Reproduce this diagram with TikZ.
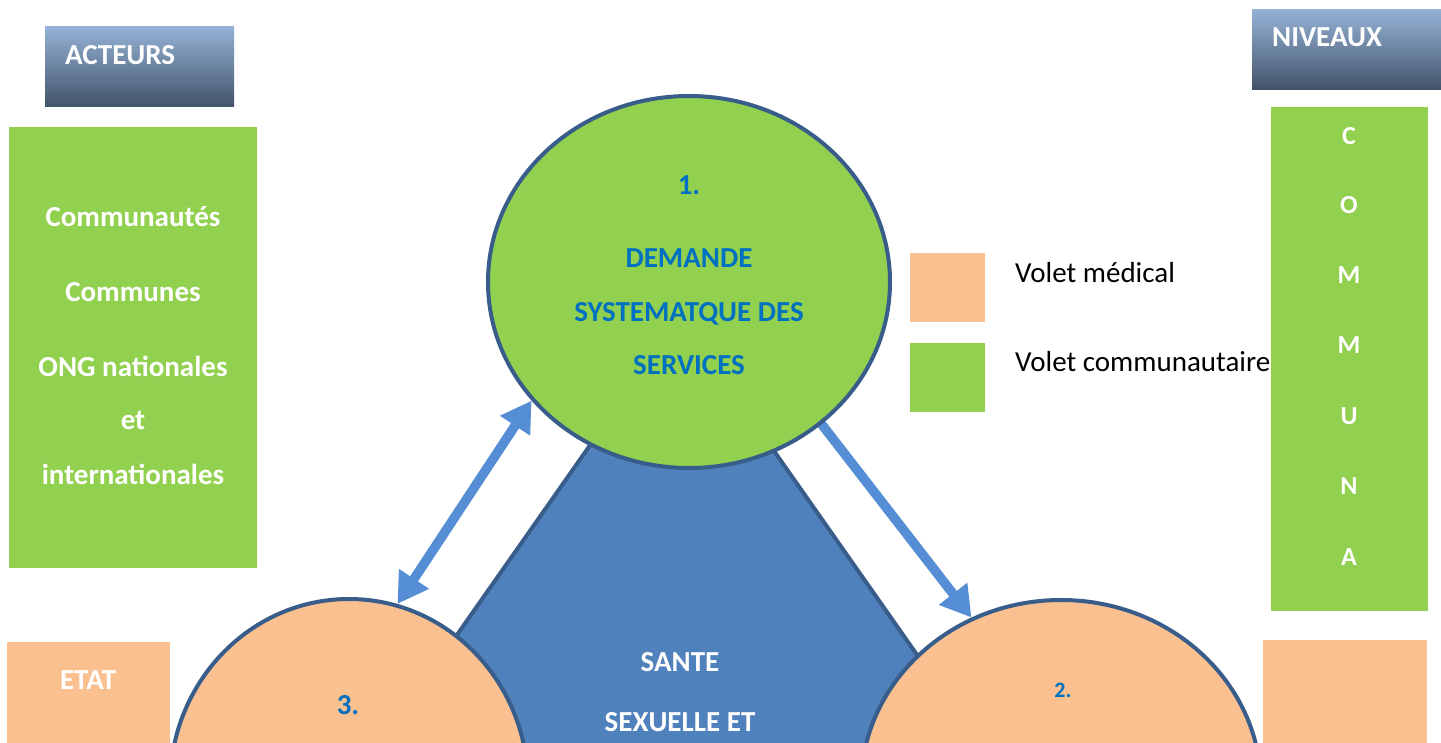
\documentclass[tikz,border=0pt]{standalone}
\usepackage{fontspec}
\setmainfont{Carlito}
\usetikzlibrary{shapes.geometric,arrows.meta}

\definecolor{leaf}{HTML}{92D050}
\definecolor{peach}{HTML}{FAC090}
\definecolor{core}{HTML}{4F81BD}
\definecolor{rim}{HTML}{385D8A}
\definecolor{flow}{HTML}{558ED5}
\definecolor{ink}{HTML}{0070C0}
\definecolor{headtop}{HTML}{95B3D7}
\definecolor{headbot}{HTML}{44546A}

\newcommand\fsz[1]{\fontsize{#1}{#1}\selectfont}

\tikzset{
  panel/.style={rectangle, inner sep=0pt, outer sep=0pt, anchor=north west},
  header/.style={panel, top color=headtop, bottom color=headbot, draw=none},
  bubble/.style={ellipse, draw=rim, line width=4pt, inner sep=0pt},
  lbl/.style={inner sep=0pt, anchor=base, font=\fsz{29}\bfseries, text=white},
  inlbl/.style={lbl, text=ink},
  collbl/.style={inner sep=0pt, anchor=base, font=\fsz{26}\bfseries, text=white},
  legtxt/.style={inner sep=0pt, anchor=base west, font=\fsz{29}, text=black},
  link/.style={draw=flow, line width=9.5pt}
}

\begin{document}
\begin{tikzpicture}[x=1pt,y=-1pt]
\clip (0,0) rectangle (1441,742);
\fill[white] (0,0) rectangle (1441,742);

% column headers
\node[header, minimum width=189pt, minimum height=80pt] (acteurs) at (45,26) {};
\node[lbl, anchor=base west] (acteurs text) at (65,64) {ACTEURS};
\node[header, minimum width=190pt, minimum height=80pt] (niveaux) at (1252,9) {};
\node[lbl, anchor=base west] (niveaux text) at (1272,46) {NIVEAUX};

% actors
\node[panel, fill=leaf, minimum width=248pt, minimum height=441pt] (commu box) at (9,127) {};
\node[lbl] (a1) at (133,226) {Communautés};
\node[lbl] (a2) at (133,301) {Communes};
\node[lbl] (a3) at (133,376) {ONG nationales};
\node[lbl] (a4) at (133,429) {et};
\node[lbl] (a5) at (133,484) {internationales};

\node[panel, fill=peach, minimum width=163pt, minimum height=110pt] (etat box) at (7,642) {};
\node[lbl] (etat) at (88,689) {ETAT};

% central triangle
\filldraw[fill=core, draw=rim, line width=4pt, line join=miter]
  (680,317) -- (271,900) -- (1089,900) -- cycle;
\node[lbl] (t1) at (680,671) {SANTE};
\node[lbl] (t2) at (680,731) {SEXUELLE ET};

% lower bubbles
\node[bubble, fill=peach, minimum width=400pt, minimum height=372pt] (c2) at (1061,786) {};
\node[inlbl, font=\fsz{22}\bfseries] (n2) at (1063,697) {2.};
\node[bubble, fill=peach, minimum width=358pt, minimum height=372pt] (c3) at (349,785) {};
\node[inlbl] (n3) at (348,714) {3.};

% upper bubble position (drawn after the arrows)
\coordinate (c1c) at (689,282);
\path (c1c) node[bubble, draw=none, minimum width=402pt, minimum height=372pt] (c1) {};

% links
\draw[link, {Triangle[length=30pt,width=34pt]}-{Triangle[length=30pt,width=34pt]}]
  (c3.75.6) -- (c1.217.6);
\draw[link, -{Triangle[length=30pt,width=34pt]}, shorten <=-12pt]
  (c1.-47.5) -- (c2.118.8);

% upper bubble
\node[bubble, fill=leaf, minimum width=402pt, minimum height=372pt] (c1top) at (c1c) {};
\node[inlbl] (n1) at (689,194) {1.};
\node[inlbl] (d1) at (689,267) {DEMANDE};
\node[inlbl] (d2) at (689,321) {SYSTEMATQUE DES};
\node[inlbl] (d3) at (689,374) {SERVICES};

% legend
\node[panel, fill=peach, minimum width=75pt, minimum height=69pt] (leg med) at (910,253) {};
\node[panel, fill=leaf, minimum width=75pt, minimum height=69pt] (leg com) at (910,343) {};
\node[legtxt] (leg med text) at (1015,282) {Volet médical};
\node[legtxt] (leg com text) at (1015,371) {Volet communautaire};

% levels
\node[panel, fill=leaf, minimum width=157pt, minimum height=504pt] (comm col) at (1271,107) {};
\node[collbl] (l1) at (1349,144) {C};
\node[collbl] (l2) at (1349,213) {O};
\node[collbl] (l3) at (1349,283) {M};
\node[collbl] (l4) at (1349,353) {M};
\node[collbl] (l5) at (1349,424) {U};
\node[collbl] (l6) at (1349,494) {N};
\node[collbl] (l7) at (1349,565) {A};
\node[panel, fill=peach, minimum width=164pt, minimum height=110pt] (level box) at (1263,640) {};
\end{tikzpicture}
\end{document}
